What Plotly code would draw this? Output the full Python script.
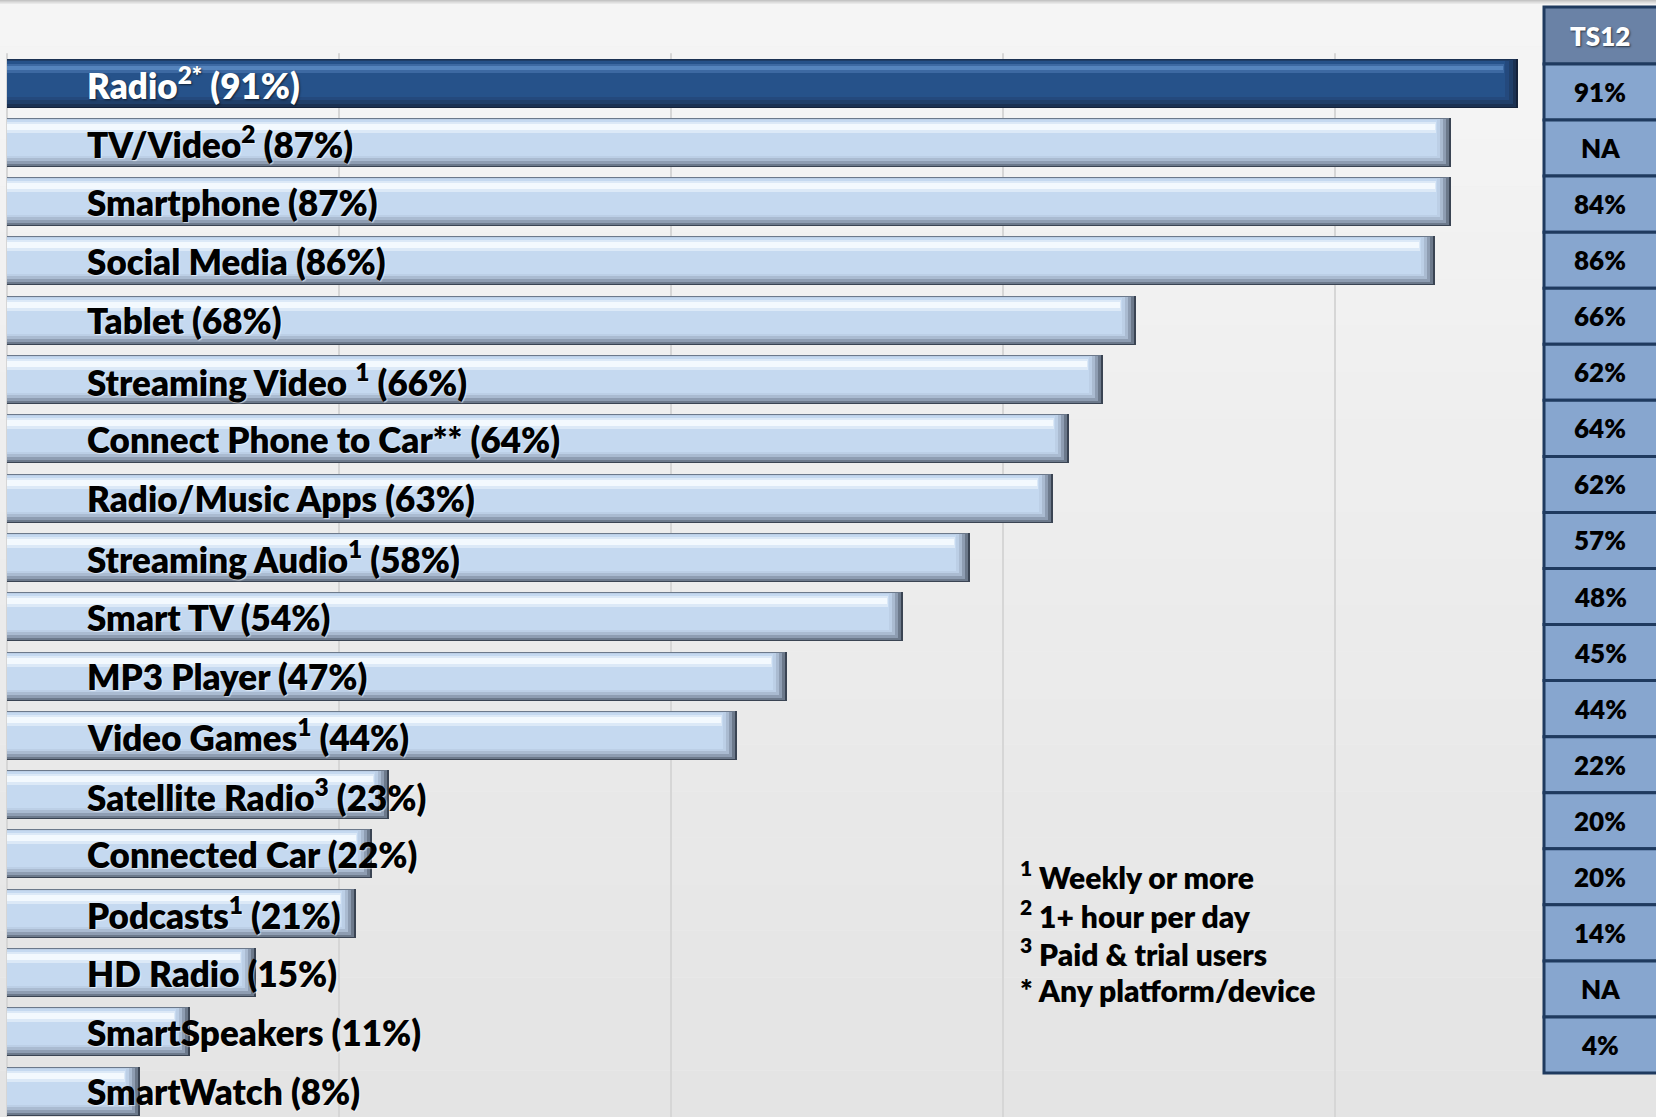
import plotly.graph_objects as go

# ---------------- data ----------------
labels = [
    "Radio<sup>2*</sup> (91%)",
    "TV/Video<sup>2</sup> (87%)",
    "Smartphone (87%)",
    "Social Media (86%)",
    "Tablet (68%)",
    "Streaming Video <sup>1</sup> (66%)",
    "Connect Phone to Car** (64%)",
    "Radio/Music Apps (63%)",
    "Streaming Audio<sup>1</sup> (58%)",
    "Smart TV (54%)",
    "MP3 Player (47%)",
    "Video Games<sup>1</sup> (44%)",
    "Satellite Radio<sup>3</sup> (23%)",
    "Connected Car (22%)",
    "Podcasts<sup>1</sup> (21%)",
    "HD Radio (15%)",
    "SmartSpeakers (11%)",
    "SmartWatch (8%)",
]
values = [91, 87, 87, 86, 68, 66, 64, 63, 58, 54, 47, 44, 23, 22, 21, 15, 11, 8]
ts12_header = "TS12"
ts12_values = ["91%", "NA", "84%", "86%", "66%", "62%", "64%", "62%", "57%",
               "48%", "45%", "44%", "22%", "20%", "20%", "14%", "NA", "4%"]
footnotes = ["<sup>1</sup> Weekly or more", "<sup>2</sup> 1+ hour per day",
             "<sup>3</sup> Paid & trial users", "* Any platform/device"]

# ---------------- geometry ----------------
W, H = 1656, 1117
X0_PX = 7.0          # pixel of 0%
PX_PER_PCT = 16.6
Y0_PX = 83.0         # centre of first bar
PITCH = 59.3         # px between bars
BAR_PX = 49.0
FONT = "Lato, Calibri, Carlito, sans-serif"

n = len(values)
ys = list(range(n))
px_y = 1.0 / PITCH
px_x = 1.0 / PX_PER_PCT

fig = go.Figure()

def add_layer(idx, top_in, bot_in, right_in, color):
    xs = [values[i] - right_in * px_x for i in idx]
    fig.add_trace(go.Bar(
        y=[ys[i] for i in idx], x=xs, orientation="h",
        width=(BAR_PX - top_in - bot_in) * px_y,
        offset=(-BAR_PX / 2 + top_in) * px_y,
        marker=dict(color=color, line=dict(width=0)),
        hoverinfo="skip", showlegend=False,
    ))

light = list(range(1, n))
dark = [0]

# light bars (bevelled look)
for top_in, bot_in, right_in, col in [
    (0, 0, 0, "#3a4453"),
    (0, 1, 2, "#6c798b"),
    (1, 3, 5, "#8e9db2"),
    (1, 6, 8, "#aabbd1"),
    (1, 9, 11, "#bccfe6"),
    (2, 11, 14, "#c5d9f0"),
    (4, 34, 15, "#dce9f7"),
    (6, 37, 16, "#f3f9fe"),
]:
    add_layer(light, top_in, bot_in, right_in, col)

# dark bar (Radio)
for top_in, bot_in, right_in, col in [
    (0, 0, 0, "#14223a"),
    (0, 1, 2, "#1b3152"),
    (1, 4, 5, "#203f69"),
    (2, 8, 9, "#24497d"),
    (2, 11, 13, "#26528a"),
    (5, 35, 14, "#3d69a2"),
    (7, 38, 15, "#5584bd"),
]:
    add_layer(dark, top_in, bot_in, right_in, col)

# ---------------- background ----------------
shapes = []
nb = 24
for k in range(nb):
    t = k / (nb - 1)
    c = int(round(245 - 17 * t))
    shapes.append(dict(type="rect", xref="paper", yref="paper", layer="below",
                       x0=0, x1=1, y0=1 - (k + 1) / nb, y1=1 - k / nb,
                       fillcolor=f"rgb({c},{c},{c})", line=dict(width=0)))
# top border shadow
for k, c in enumerate([196, 210, 222, 232]):
    shapes.append(dict(type="rect", xref="paper", yref="paper", layer="below",
                       x0=0, x1=1, y0=1 - (k + 1) / H, y1=1 - k / H,
                       fillcolor=f"rgb({c},{c},{c})", line=dict(width=0)))
# vertical gridlines
for g in [0, 20, 40, 60, 80]:
    shapes.append(dict(type="line", xref="x", yref="y", layer="below",
                       x0=g, x1=g, y0=-0.5, y1=n + 1,
                       line=dict(color="#d6d6d6", width=2)))

# ---------------- TS12 table ----------------
tx0 = 1544 / W
tx1 = 1.01
t_top, t_head, t_bot = 7, 64, 1073
row_h = (t_bot - t_head) / len(ts12_values)

def py(p):
    return 1 - p / H

shapes.append(dict(type="rect", xref="paper", yref="paper", layer="above",
                   x0=tx0, x1=tx1, y0=py(t_head), y1=py(t_top),
                   fillcolor="#6a82a6", line=dict(color="#1f3a5f", width=3)))
for i in range(len(ts12_values)):
    shapes.append(dict(type="rect", xref="paper", yref="paper", layer="above",
                       x0=tx0, x1=tx1, y0=py(t_head + (i + 1) * row_h), y1=py(t_head + i * row_h),
                       fillcolor="#87a6cf", line=dict(color="#1f3a5f", width=3)))

annotations = []
annotations.append(dict(xref="paper", yref="paper", x=(1544 + 1656) / 2 / W,
                        y=py((t_top + t_head) / 2), text=ts12_header, showarrow=False,
                        xanchor="center", yanchor="middle",
                        font=dict(family=FONT, size=26, color="white", weight=800,
                                  shadow="1px 1px 2px rgba(0,0,0,0.6)")))
for i, v in enumerate(ts12_values):
    annotations.append(dict(xref="paper", yref="paper", x=(1544 + 1656) / 2 / W,
                            y=py(t_head + (i + 0.5) * row_h), text=v, showarrow=False,
                            xanchor="center", yanchor="middle",
                            font=dict(family=FONT, size=26, color="black", weight=800)))

# bar labels
label_x = (85 - X0_PX) * px_x
for i, lab in enumerate(labels):
    annotations.append(dict(xref="x", yref="y", x=label_x, y=ys[i],
                            text=lab, showarrow=False, xanchor="left", yanchor="middle",
                            font=dict(family=FONT, size=35, weight=800,
                                      color="white" if i == 0 else "black",
                                      shadow="1px 1px 2px rgba(0,0,0,0.6)" if i == 0
                                      else "1px 1px 1px rgba(255,255,255,0.6)")))

# footnotes
for k, fn in enumerate(footnotes):
    annotations.append(dict(xref="paper", yref="paper", x=1018 / W, y=py(875 + k * 38.5),
                            text=fn, showarrow=False, xanchor="left", yanchor="middle",
                            font=dict(family=FONT, size=30, color="black", weight=800)))

fig.update_layout(
    width=W, height=H,
    margin=dict(l=0, r=0, t=0, b=0),
    paper_bgcolor="#eeeeee", plot_bgcolor="rgba(0,0,0,0)",
    barmode="overlay", bargap=0,
    xaxis=dict(range=[-X0_PX * px_x, (W - X0_PX) * px_x], visible=False, fixedrange=True),
    yaxis=dict(range=[(H - Y0_PX) * px_y, -Y0_PX * px_y], visible=False, fixedrange=True),
    shapes=shapes, annotations=annotations,
    showlegend=False,
)

fig.write_html("out.html", config={"displayModeBar": False},
               post_script="document.body.style.margin='0';document.body.style.padding='0';"
                           "document.body.style.overflow='hidden';")
